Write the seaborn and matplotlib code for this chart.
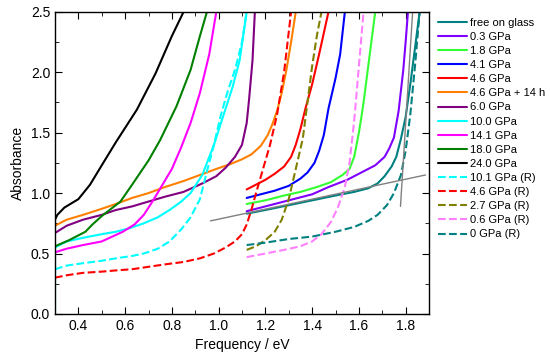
import pandas as pd
import seaborn as sns
import matplotlib.pyplot as plt

# readings (eV, absorbance)
glass_x = [1.12, 1.20, 1.30, 1.40, 1.50, 1.58, 1.64, 1.68, 1.71, 1.74, 1.76, 1.78, 1.80, 1.82, 1.84, 1.86]
glass_y = [0.83, 0.86, 0.90, 0.94, 0.98, 1.01, 1.04, 1.08, 1.14, 1.22, 1.30, 1.45, 1.63, 1.90, 2.20, 2.50]

p03_x = [1.12, 1.20, 1.30, 1.40, 1.47, 1.55, 1.62, 1.67, 1.71, 1.73, 1.75, 1.77, 1.79, 1.80, 1.81]
p03_y = [0.85, 0.89, 0.94, 0.99, 1.05, 1.11, 1.18, 1.23, 1.30, 1.37, 1.46, 1.68, 2.02, 2.25, 2.50]

p18_x = [1.12, 1.20, 1.28, 1.35, 1.42, 1.48, 1.53, 1.56, 1.58, 1.59, 1.60, 1.61, 1.62, 1.64, 1.67]
p18_y = [0.91, 0.94, 0.98, 1.01, 1.05, 1.09, 1.15, 1.20, 1.30, 1.40, 1.50, 1.62, 1.75, 2.05, 2.50]

p41_x = [1.12, 1.18, 1.24, 1.30, 1.35, 1.38, 1.41, 1.43, 1.45, 1.47, 1.50, 1.52, 1.54]
p41_y = [0.96, 0.99, 1.02, 1.06, 1.12, 1.17, 1.25, 1.35, 1.48, 1.70, 1.95, 2.15, 2.50]

p46_x = [1.12, 1.16, 1.20, 1.24, 1.28, 1.31, 1.33, 1.35, 1.37, 1.40, 1.43, 1.47]
p46_y = [1.03, 1.07, 1.11, 1.16, 1.22, 1.30, 1.40, 1.53, 1.69, 1.90, 2.15, 2.50]

p46h_x = [0.30, 0.35, 0.42, 0.50, 0.56, 0.63, 0.70, 0.77, 0.85, 0.92, 0.99, 1.05, 1.10, 1.14, 1.18, 1.21, 1.23, 1.25, 1.27, 1.29, 1.31, 1.33]
p46h_y = [0.73, 0.78, 0.82, 0.87, 0.91, 0.96, 1.00, 1.05, 1.10, 1.15, 1.20, 1.24, 1.28, 1.32, 1.39, 1.48, 1.57, 1.68, 1.83, 2.02, 2.25, 2.50]

p60_x = [0.30, 0.35, 0.42, 0.50, 0.56, 0.63, 0.70, 0.77, 0.85, 0.93, 0.99, 1.03, 1.07, 1.10, 1.12, 1.13, 1.145, 1.155]
p60_y = [0.67, 0.73, 0.78, 0.82, 0.86, 0.89, 0.93, 0.97, 1.01, 1.08, 1.14, 1.21, 1.30, 1.40, 1.58, 1.77, 2.10, 2.50]

p100_x = [0.30, 0.30, 0.35, 0.42, 0.50, 0.56, 0.62, 0.68, 0.74, 0.79, 0.84, 0.88, 0.93, 0.98, 1.03, 1.06, 1.09, 1.12]
p100_y = [0.00, 0.55, 0.60, 0.63, 0.66, 0.68, 0.71, 0.75, 0.80, 0.86, 0.93, 1.00, 1.15, 1.40, 1.70, 1.88, 2.10, 2.50]

p141_x = [0.30, 0.35, 0.42, 0.50, 0.59, 0.64, 0.68, 0.72, 0.76, 0.80, 0.84, 0.88, 0.92, 0.96, 0.99]
p141_y = [0.51, 0.54, 0.57, 0.60, 0.68, 0.74, 0.82, 0.94, 1.07, 1.20, 1.38, 1.58, 1.83, 2.15, 2.50]

p180_x = [0.30, 0.36, 0.43, 0.46, 0.50, 0.54, 0.58, 0.63, 0.70, 0.75, 0.82, 0.88, 0.92, 0.95]
p180_y = [0.56, 0.61, 0.68, 0.74, 0.81, 0.87, 0.93, 1.07, 1.27, 1.44, 1.72, 2.02, 2.30, 2.50]

p240_x = [0.30, 0.30, 0.31, 0.34, 0.40, 0.45, 0.50, 0.56, 0.65, 0.73, 0.80, 0.85]
p240_y = [0.70, 0.78, 0.82, 0.88, 0.95, 1.07, 1.23, 1.42, 1.69, 1.99, 2.30, 2.50]

r101_x = [0.30, 0.35, 0.42, 0.50, 0.56, 0.63, 0.68, 0.74, 0.79, 0.84, 0.88, 0.92, 0.95, 0.98, 1.01, 1.04, 1.07, 1.10, 1.12]
r101_y = [0.37, 0.40, 0.42, 0.44, 0.46, 0.48, 0.50, 0.54, 0.60, 0.70, 0.80, 0.95, 1.18, 1.40, 1.65, 1.85, 2.02, 2.25, 2.50]

r46_x = [0.30, 0.35, 0.42, 0.50, 0.56, 0.63, 0.70, 0.77, 0.85, 0.92, 0.98, 1.03, 1.07, 1.10, 1.12, 1.14, 1.16, 1.19, 1.22, 1.25, 1.28, 1.31]
r46_y = [0.30, 0.32, 0.34, 0.35, 0.36, 0.37, 0.39, 0.41, 0.43, 0.46, 0.50, 0.55, 0.60, 0.66, 0.74, 0.86, 1.00, 1.20, 1.40, 1.65, 2.00, 2.50]

r27_x = [1.12, 1.16, 1.20, 1.24, 1.27, 1.30, 1.33, 1.36, 1.38, 1.40, 1.42, 1.44]
r27_y = [0.53, 0.56, 0.61, 0.68, 0.78, 0.95, 1.20, 1.45, 1.75, 2.05, 2.30, 2.50]

r06_x = [1.12, 1.20, 1.28, 1.35, 1.40, 1.44, 1.48, 1.51, 1.54, 1.56, 1.58, 1.60, 1.62]
r06_y = [0.47, 0.50, 0.53, 0.56, 0.60, 0.66, 0.76, 0.88, 1.05, 1.25, 1.60, 2.05, 2.50]

r00_x = [1.12, 1.20, 1.30, 1.40, 1.50, 1.58, 1.64, 1.68, 1.72, 1.75, 1.78, 1.80, 1.82, 1.84, 1.86]
r00_y = [0.57, 0.59, 0.62, 0.64, 0.68, 0.72, 0.77, 0.82, 0.90, 1.00, 1.15, 1.35, 1.65, 2.05, 2.50]

# gray tangent lines
fit1_x = [0.965, 1.885]
fit1_y = [0.77, 1.15]
fit2_x = [1.778, 1.83]
fit2_y = [0.89, 2.50]

series = [
    ("free on glass", glass_x, glass_y, "#008080", "-"),
    ("0.3 GPa", p03_x, p03_y, "#8000ff", "-"),
    ("1.8 GPa", p18_x, p18_y, "#33ff33", "-"),
    ("4.1 GPa", p41_x, p41_y, "#0000ff", "-"),
    ("4.6 GPa", p46_x, p46_y, "#ff0000", "-"),
    ("4.6 GPa + 14 h", p46h_x, p46h_y, "#ff8000", "-"),
    ("6.0 GPa", p60_x, p60_y, "#800080", "-"),
    ("10.0 GPa", p100_x, p100_y, "#00ffff", "-"),
    ("14.1 GPa", p141_x, p141_y, "#ff00ff", "-"),
    ("18.0 GPa", p180_x, p180_y, "#008000", "-"),
    ("24.0 GPa", p240_x, p240_y, "#000000", "-"),
    ("10.1 GPa (R)", r101_x, r101_y, "#00ffff", "--"),
    ("4.6 GPa (R)", r46_x, r46_y, "#ff0000", "--"),
    ("2.7 GPa (R)", r27_x, r27_y, "#808000", "--"),
    ("0.6 GPa (R)", r06_x, r06_y, "#ff80ff", "--"),
    ("0 GPa (R)", r00_x, r00_y, "#008080", "--"),
]

sns.set_style("ticks", {"axes.edgecolor": "black", "text.color": "black",
                        "xtick.color": "black", "ytick.color": "black",
                        "axes.labelcolor": "black"})
plt.rcParams["font.family"] = ["Liberation Sans", "DejaVu Sans"]

fig = plt.figure(figsize=(5.5, 3.6), dpi=100)
ax = fig.add_axes([0.1, 0.128, 0.68, 0.839])

for name, xs, ys, col, ls in series:
    df = pd.DataFrame({"x": xs, "y": ys})
    sns.lineplot(data=df, x="x", y="y", ax=ax, color=col, linestyle=ls,
                 lw=1.5, sort=False, estimator=None, label=name)

ax.plot(fit1_x, fit1_y, color="#808080", lw=1)
ax.plot(fit2_x, fit2_y, color="#808080", lw=1)

ax.set_xlim(0.3, 1.9)
ax.set_ylim(0.0, 2.5)
ax.set_xticks([0.4, 0.6, 0.8, 1.0, 1.2, 1.4, 1.6, 1.8])
ax.set_xticks([0.5, 0.7, 0.9, 1.1, 1.3, 1.5, 1.7, 1.9], minor=True)
ax.set_yticks([0.0, 0.5, 1.0, 1.5, 2.0, 2.5])
ax.set_yticks([0.25, 0.75, 1.25, 1.75, 2.25], minor=True)
ax.tick_params(which="both", direction="in", top=True, right=True, labelsize=10)
ax.tick_params(which="major", length=5)
ax.tick_params(which="minor", length=3)
ax.set_xlabel("Frequency / eV", fontsize=10)
ax.set_ylabel("Absorbance", fontsize=10)
for s in ax.spines.values():
    s.set_linewidth(1)

ax.legend(loc="upper left", bbox_to_anchor=(1.0, 1.01), frameon=False,
          fontsize=8, handlelength=2.6, handletextpad=0.3,
          labelspacing=0.37, borderaxespad=0.4)

fig.savefig("out.png", dpi=100)
